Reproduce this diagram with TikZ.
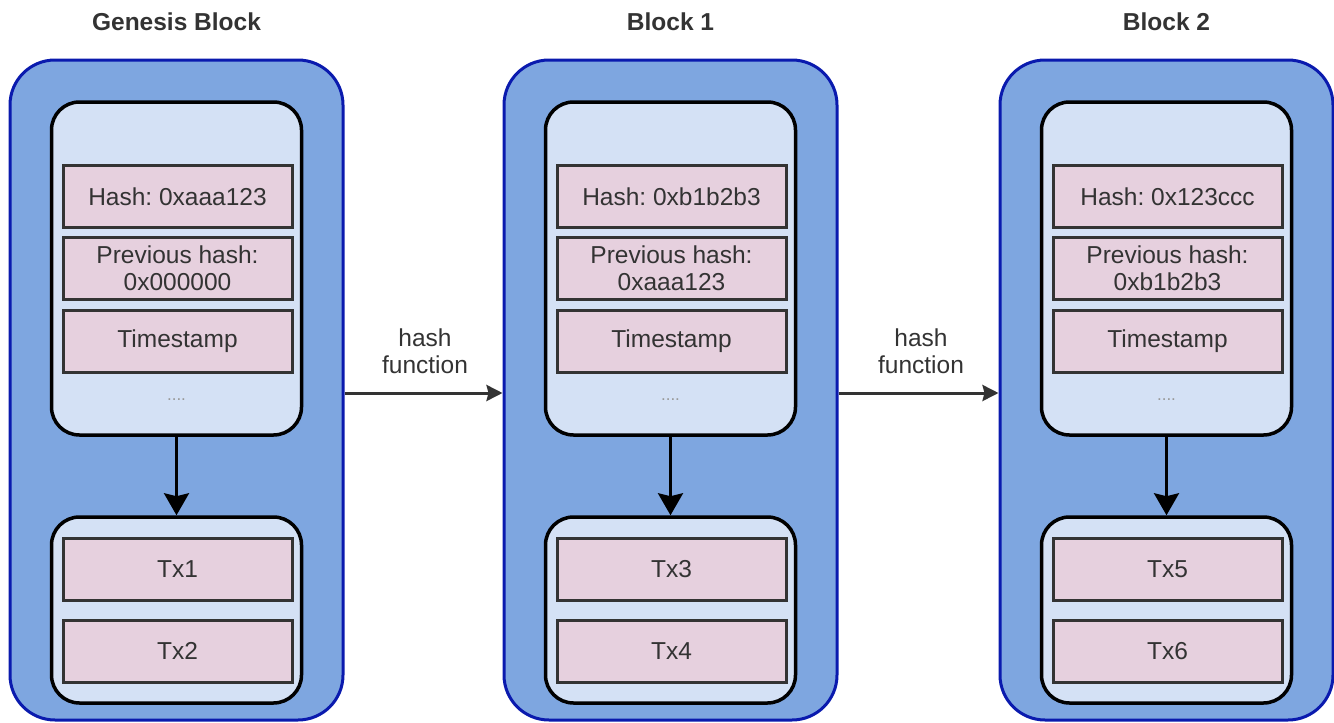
\documentclass[tikz,border=0pt]{standalone}
\usepackage{fontspec}
\setmainfont{Liberation Sans}
\usetikzlibrary{arrows.meta}
\frenchspacing
\definecolor{outerfill}{HTML}{7EA6E0}
\definecolor{outerdraw}{HTML}{0A1AAE}
\definecolor{innerfill}{HTML}{D4E1F5}
\definecolor{pinkfill}{HTML}{E6D0DE}
\definecolor{txt}{HTML}{333333}
\tikzset{
  outerbox/.style={draw=outerdraw, fill=outerfill, line width=3pt, rounded corners=45pt, minimum width=333pt, minimum height=660pt, inner sep=0pt},
  innerbox/.style={draw=black, fill=innerfill, line width=3.5pt, rounded corners=28pt, minimum width=250pt, inner sep=0pt},
  field/.style={draw=txt, fill=pinkfill, line width=3pt, minimum width=229pt, minimum height=62pt, inner sep=0pt, text=txt, font=\fontsize{24.5}{27}\selectfont, align=center},
  title/.style={text=txt, font=\fontsize{24.5}{27}\selectfont\bfseries},
  lbl/.style={text=txt, font=\fontsize{24.5}{27}\selectfont, align=center},
  dots/.style={text=gray!80, font=\fontsize{17}{18}\selectfont},
  down/.style={draw=black, line width=3pt, -{Stealth[length=22pt, width=25pt, inset=3pt]}},
  hashline/.style={draw=txt, line width=3pt, -{Stealth[length=16pt, width=16pt, inset=2pt]}},
}
\newcommand{\chainblock}[7]{%
  % #1 name prefix, #2 x offset, #3 title, #4 hash, #5 prev, #6 tx a, #7 tx b
  \node[outerbox] (#1outer) at (#2+176.5, 390) {};
  \node[title] (#1title) at (#2+176.5, 22) {#3};
  \node[innerbox, minimum height=333pt] (#1head) at (#2+176.5, 268.5) {};
  \node[field] (#1hash) at (#2+177.5, 196.5) {#4};
  \node[field] (#1prev) at (#2+177.5, 268) {#5};
  \node[field] (#1time) at (#2+177.5, 341.5) {Timestamp};
  \node[dots] (#1dots) at (#2+176.5, 400) {....};
  \node[innerbox, minimum height=186pt] (#1body) at (#2+176.5, 610) {};
  \node[field] (#1txa) at (#2+177.5, 569) {#6};
  \node[field] (#1txb) at (#2+177.5, 651) {#7};
  \draw[down] (#1head.south) -- (#1body.north);
}
\begin{document}
\begin{tikzpicture}[x=1pt, y=-1pt]
\useasboundingbox (0,0) rectangle (1334,723);
\chainblock{g}{0}{Genesis Block}{Hash: 0xaaa123}{Previous hash:\\0x000000}{Tx1}{Tx2}
\chainblock{a}{494}{Block 1}{Hash: 0xb1b2b3}{Previous hash:\\0xaaa123}{Tx3}{Tx4}
\chainblock{b}{990}{Block 2}{Hash: 0x123ccc}{Previous hash:\\0xb1b2b3}{Tx5}{Tx6}
\coordinate (g1) at (gouter.east |- 0,393);
\coordinate (a0) at (aouter.west |- 0,393);
\coordinate (a1) at (aouter.east |- 0,393);
\coordinate (b0) at (bouter.west |- 0,393);
\draw[hashline] (g1) -- (a0);
\draw[hashline] (a1) -- (b0);
\node[lbl] (h1) at (425, 351) {hash\\function};
\node[lbl] (h2) at (921, 351) {hash\\function};
\end{tikzpicture}
\end{document}
